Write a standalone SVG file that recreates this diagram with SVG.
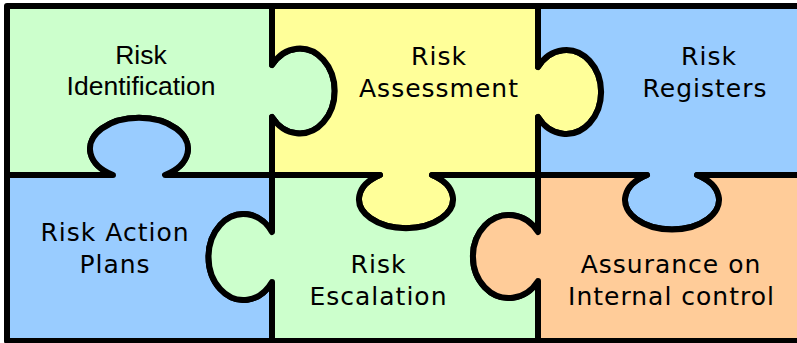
<svg xmlns="http://www.w3.org/2000/svg" width="797" height="343" viewBox="0 0 797 343">
<style>
.piece{stroke:#000;stroke-width:6;stroke-linejoin:round}
.g{fill:#CCFFCC}.y{fill:#FFFF99}.b{fill:#99CCFF}.o{fill:#FFCC99}
.t{font-family:"DejaVu Sans",Verdana,sans-serif;font-size:25px;letter-spacing:1px;fill:#000;text-anchor:middle}
.a{font-family:"Liberation Sans",Arial,sans-serif;font-size:26.5px;fill:#000;text-anchor:middle}
</style>
<rect width="797" height="343" fill="#fff"/>
<g id="risk-identification">
<path class="piece g" d="M7,6 H272 V65 A35,42.5 0 1 1 272,117 V175 H165 A49,31 0 1 0 113,175 H7 Z"/>
<text class="a" x="141" y="64">Risk</text>
<text class="a" x="141" y="95">Identification</text>
</g>
<g id="risk-assessment">
<path class="piece y" d="M272,6 H538 V67 A35,42 0 1 1 538,117 V175 H432 A47,29 0 1 1 380,175 H272 V117 A35,42.5 0 1 0 272,65 Z"/>
<text class="t" x="439" y="65">Risk</text>
<text class="t" x="439" y="97">Assessment</text>
</g>
<g id="risk-registers">
<path class="piece b" d="M538,6 H801 V175 H697 A47,29.5 0 1 1 647,175 H538 V117 A35,42 0 1 0 538,67 Z"/>
<text class="t" x="709" y="65">Risk</text>
<text class="t" x="705" y="97">Registers</text>
</g>
<g id="risk-action-plans">
<path class="piece b" d="M7,175 H113 A49,31 0 1 1 165,175 H272 V232 A35,43 0 1 0 272,282 V341 H7 Z"/>
<text class="t" x="115" y="241">Risk Action</text>
<text class="t" x="115" y="273">Plans</text>
</g>
<g id="risk-escalation">
<path class="piece g" d="M272,175 H380 A47,29 0 1 0 432,175 H538 V232 A36,41.5 0 1 0 538,281 V341 H272 V282 A35,43 0 1 1 272,232 Z"/>
<text class="t" x="378.5" y="273">Risk</text>
<text class="t" x="378.5" y="305">Escalation</text>
</g>
<g id="assurance-internal-control">
<path class="piece o" d="M538,175 H647 A47,29.5 0 1 0 697,175 H801 V341 H538 V281 A36,41.5 0 1 1 538,232 Z"/>
<text class="t" x="671" y="273">Assurance on</text>
<text class="t" x="671.5" y="305">Internal control</text>
</g>
<g id="connectors"></g>
</svg>
